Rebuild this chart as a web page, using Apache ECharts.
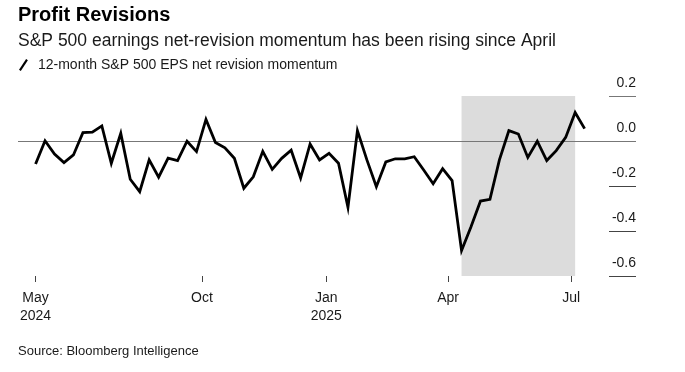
<!DOCTYPE html>
<html><head><meta charset="utf-8">
<script src="https://cdn.jsdelivr.net/npm/echarts@6/dist/echarts.min.js"></script>
<style>html,body{margin:0;padding:0;background:#fff}#c{width:685px;height:372px}</style>
</head><body><div id="c"></div>
<script>
const titleText = 'Profit Revisions';
const subtitleText = 'S&P 500 earnings net-revision momentum has been rising since April';
const seriesName = '12-month S&P 500 EPS net revision momentum';
const sourceText = 'Source: Bloomberg Intelligence';

const dates = [
  '2024-05-31','2024-06-07','2024-06-14','2024-06-21','2024-06-28',
  '2024-07-05','2024-07-12','2024-07-19','2024-07-26',
  '2024-08-02','2024-08-09','2024-08-16','2024-08-23','2024-08-30',
  '2024-09-06','2024-09-13','2024-09-20','2024-09-27',
  '2024-10-04','2024-10-11','2024-10-18','2024-10-25',
  '2024-11-01','2024-11-08','2024-11-15','2024-11-22','2024-11-29',
  '2024-12-06','2024-12-13','2024-12-20','2024-12-27',
  '2025-01-03','2025-01-10','2025-01-17','2025-01-24','2025-01-31',
  '2025-02-07','2025-02-14','2025-02-21','2025-02-28',
  '2025-03-07','2025-03-14','2025-03-21','2025-03-28',
  '2025-04-04','2025-04-11','2025-04-18','2025-04-25',
  '2025-05-02','2025-05-09','2025-05-16','2025-05-23','2025-05-30',
  '2025-06-06','2025-06-13','2025-06-20','2025-06-27',
  '2025-07-04','2025-07-11'
];
const values = [
  -0.102, 0.001, -0.058, -0.096, -0.062,
  0.037, 0.039, 0.067, -0.099,
  0.034, -0.170, -0.225, -0.084, -0.161,
  -0.076, -0.087, -0.001, -0.047,
  0.096, -0.007, -0.030, -0.077,
  -0.210, -0.159, -0.046, -0.126, -0.077,
  -0.041, -0.164, -0.013, -0.084,
  -0.055, -0.099, -0.295, 0.046, -0.084,
  -0.203, -0.093, -0.079, -0.079,
  -0.070, -0.129, -0.190, -0.123,
  -0.176, -0.487, -0.381, -0.267,
  -0.259, -0.084, 0.046, 0.031, -0.073,
  -0.001, -0.087, -0.043, 0.016,
  0.127, 0.055
];
const xTickDates = ['2024-05-31','2024-10-01','2025-01-01','2025-04-01','2025-07-01'];
const xTickLabels = ['May\n2024','Oct','Jan\n2025','Apr','Jul'];
const yTicks = [-0.6, -0.4, -0.2, 0, 0.2];
const shadeDates = ['2025-04-11','2025-07-04'];
const xRangeDates = ['2024-05-18','2025-08-18'];

const t0 = Date.parse(dates[0]);
const toDay = d => (Date.parse(d) - t0) / 864e5;
const seriesData = dates.map((d, i) => [toDay(d), values[i]]);
const xTickDays = xTickDates.map(toDay);
const FONT = '"Liberation Sans", Arial, Helvetica, sans-serif';
const yMin = yTicks[0], yMax = yTicks[yTicks.length - 1];

const chart = echarts.init(document.getElementById('c'), null, {renderer: 'canvas'});
chart.setOption({
  animation: false,
  backgroundColor: '#fff',
  textStyle: {fontFamily: FONT},
  grid: [
    {left: 18, right: 49, top: 96, bottom: 96, containLabel: false},
    {left: 609, right: 49, top: 96, bottom: 96, containLabel: false}
  ],
  graphic: [
    {type: 'text', left: 18, top: 5, style: {text: titleText, font: 'bold 20px ' + FONT, fill: '#000'}},
    {type: 'text', left: 18, top: 32, style: {text: subtitleText, font: '17.5px ' + FONT, fill: '#1a1a1a'}},
    {type: 'text', left: 18, top: 345, style: {text: sourceText, font: '13px ' + FONT, fill: '#1a1a1a'}}
  ],
  legend: {
    left: 14, top: 53,
    itemWidth: 9, itemHeight: 12, itemGap: 10,
    icon: 'path://M0,12 L8,0 L10,1.5 L2,13.5 Z',
    textStyle: {fontSize: 14, color: '#1a1a1a', fontFamily: FONT, padding: [0, 0, 0, 5]},
    data: [{name: seriesName, itemStyle: {color: '#000'}}]
  },
  xAxis: [{
    type: 'value', gridIndex: 0, position: 'bottom',
    min: toDay(xRangeDates[0]),
    max: toDay(xRangeDates[1]),
    axisLine: {show: false, onZero: false},
    splitLine: {show: false},
    axisTick: {show: true, customValues: xTickDays, length: 6, lineStyle: {color: '#444', width: 1}},
    axisLabel: {
      customValues: xTickDays, margin: 13,
      fontSize: 14, lineHeight: 18, color: '#1a1a1a', fontFamily: FONT,
      formatter: v => {
        const i = xTickDays.findIndex(d => Math.abs(d - v) < 0.01);
        return i >= 0 ? xTickLabels[i] : '';
      }
    }
  }, {
    type: 'value', gridIndex: 1, min: 0, max: 1, show: false
  }],
  yAxis: [{
    type: 'value', gridIndex: 0, show: false,
    min: yMin, max: yMax, interval: 0.2,
    axisLine: {onZero: false},
    splitLine: {show: false}
  }, {
    type: 'value', gridIndex: 1, position: 'right',
    min: yMin, max: yMax, interval: 0.2,
    axisLine: {show: false, onZero: false},
    axisTick: {show: false},
    splitLine: {show: true, lineStyle: {color: ['#444', '#444', '#444', '#777', '#777'], width: 1}},
    axisLabel: {
      inside: true, margin: 0, align: 'right', verticalAlign: 'bottom',
      padding: [0, 0, 6, 0],
      fontSize: 14, color: '#1a1a1a', fontFamily: FONT,
      formatter: v => Math.abs(v) < 1e-9 ? '0.0' : v.toFixed(1)
    }
  }],
  series: [{
    name: seriesName,
    type: 'line',
    xAxisIndex: 0, yAxisIndex: 0,
    data: seriesData,
    symbol: 'none',
    lineStyle: {color: '#000', width: 2.8, join: 'miter'},
    itemStyle: {color: '#000'},
    z: 5,
    markArea: {
      silent: true,
      itemStyle: {color: '#dcdcdc'},
      data: [[{xAxis: toDay(shadeDates[0])}, {xAxis: toDay(shadeDates[1])}]]
    },
    markLine: {
      silent: true, symbol: ['none', 'none'],
      label: {show: false},
      lineStyle: {color: '#777', width: 1, type: 'solid'},
      data: [{yAxis: 0}]
    }
  }]
});
</script></body></html>
